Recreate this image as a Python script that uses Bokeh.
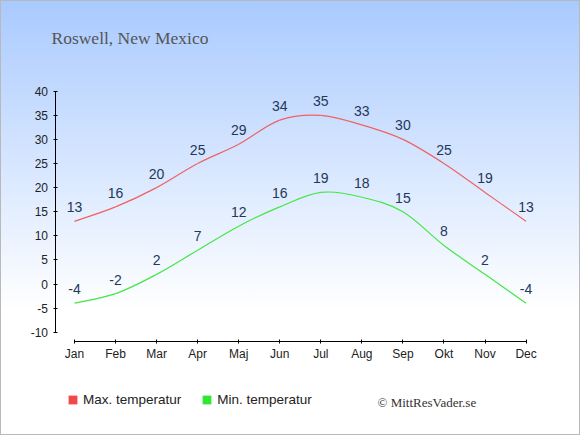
import numpy as np
from bokeh.plotting import figure
from bokeh.models import (ColumnDataSource, Range1d, FixedTicker, Label,
                          Legend, LegendItem)
from bokeh.core.properties import value
from bokeh.embed import file_html
from bokeh.resources import INLINE

# ---------------- data ----------------
months = ["Jan", "Feb", "Mar", "Apr", "Maj", "Jun", "Jul", "Aug", "Sep", "Okt", "Nov", "Dec"]
max_temp = [13, 16, 20, 25, 29, 34, 35, 33, 30, 25, 19, 13]
min_temp = [-4, -2, 2, 7, 12, 16, 19, 18, 15, 8, 2, -4]
y_ticks = [-10, -5, 0, 5, 10, 15, 20, 25, 30, 35, 40]
title_text = "Roswell, New Mexico"
legend_labels = ["Max. temperatur", "Min. temperatur"]
credit_text = "\u00a9 MittResVader.se"

# ---------------- layout (pixels in the 580x435 canvas) ----------------
W, H = 580, 435
PX_X = 41.05          # px per month
PX_Y = 4.82           # px per degree
JAN_PX = 74.0         # screen x of first month
TOP40_PX = 90.7       # screen y of the 40 degree tick
x_start = -JAN_PX / PX_X
x_end = x_start + W / PX_X
y_end = 40 + TOP40_PX / PX_Y
y_start = y_end - H / PX_Y


def dx(px):
    return x_start + px / PX_X


def dy(py):
    return y_end - py / PX_Y


RED_LINE = "#f06262"
GREEN_LINE = "#44e644"
RED_BOX = "#f04848"
GREEN_BOX = "#33e633"
LABEL_COLOR = "#253758"

p = figure(width=W, height=H, output_backend="svg", toolbar_location=None,
           x_range=Range1d(x_start, x_end), y_range=Range1d(y_start, y_end),
           min_border=0, min_border_left=0, min_border_right=0,
           min_border_top=0, min_border_bottom=0, title=None)
p.border_fill_color = None
p.background_fill_color = None
p.outline_line_color = None
p.grid.visible = False
p.styles = {"background-image": "linear-gradient(to bottom, #a9caff 0px, #ffffff 310px)",
            "box-shadow": "inset 0 0 0 1px #b9b9b9"}


def bezier_source(vals):
    n = len(vals)
    d = dict(x0=[], y0=[], x1=[], y1=[], cx0=[], cy0=[], cx1=[], cy1=[])
    for i in range(n - 1):
        i0 = max(i - 1, 0)
        i3 = min(i + 2, n - 1)
        d["x0"].append(i)
        d["y0"].append(vals[i])
        d["x1"].append(i + 1)
        d["y1"].append(vals[i + 1])
        d["cx0"].append(i + (i + 1 - i0) / 6.0)
        d["cy0"].append(vals[i] + (vals[i + 1] - vals[i0]) / 6.0)
        d["cx1"].append(i + 1 - (i3 - i) / 6.0)
        d["cy1"].append(vals[i + 1] - (vals[i3] - vals[i]) / 6.0)
    return ColumnDataSource(d)


for vals, col in ((max_temp, RED_LINE), (min_temp, GREEN_LINE)):
    p.bezier(x0="x0", y0="y0", x1="x1", y1="y1", cx0="cx0", cy0="cy0",
             cx1="cx1", cy1="cy1", source=bezier_source(vals),
             line_color=col, line_width=1.2)

idx = list(range(len(months)))
for vals in (max_temp, min_temp):
    src = ColumnDataSource(dict(x=idx, y=vals, t=[str(v) for v in vals]))
    p.text(x="x", y="y", text="t", source=src, text_align="center",
           text_baseline="alphabetic", y_offset=-14,
           text_font=value("Liberation Sans"), text_font_size="14px",
           text_color=LABEL_COLOR)

# axes, drawn inside the full-canvas frame at fixed locations
xa = p.xaxis[0]
xa.ticker = FixedTicker(ticks=idx)
xa.major_label_overrides = {i: m for i, m in enumerate(months)}
xa.bounds = (0, len(months) - 1)
xa.fixed_location = dy(341)
ya = p.yaxis[0]
ya.ticker = FixedTicker(ticks=y_ticks)
ya.major_label_overrides = {v: str(v) for v in y_ticks}
ya.bounds = (min(y_ticks), max(y_ticks))
ya.fixed_location = dx(54.5)
for ax in (xa, ya):
    ax.minor_tick_line_color = None
    ax.axis_line_color = "#000000"
    ax.major_tick_line_color = "#000000"
    ax.major_tick_in = 2
    ax.major_tick_out = 2
    ax.major_label_text_font = "Liberation Sans"
    ax.major_label_text_font_size = "12px"
    ax.major_label_text_color = "#222222"
xa.major_label_standoff = 3
ya.major_label_standoff = 5

# legend (swatch renderers are hidden, zero-size, and only feed the legend)
r_max = p.quad(left=[0], right=[0], top=[max_temp[0]], bottom=[max_temp[0]],
               fill_color=RED_BOX, line_color=None, visible=False)
r_min = p.quad(left=[0], right=[0], top=[min_temp[0]], bottom=[min_temp[0]],
               fill_color=GREEN_BOX, line_color=None, visible=False)
legend = Legend(items=[LegendItem(label=legend_labels[0], renderers=[r_max]),
                       LegendItem(label=legend_labels[1], renderers=[r_min])],
                orientation="horizontal", location=(67, 28),
                glyph_width=11, glyph_height=11, label_height=11, label_width=10,
                label_standoff=5, spacing=20, padding=0, margin=0,
                border_line_color=None, background_fill_alpha=0,
                label_text_font="Liberation Sans", label_text_font_size="13.5px",
                label_text_color="#222222")
p.add_layout(legend, "center")

# title and credit
p.add_layout(Label(x=dx(51), y=dy(37.5), text=title_text,
                   text_font="Liberation Serif", text_font_size="17.5px",
                   text_color="#555555", text_baseline="alphabetic"))
p.add_layout(Label(x=dx(377), y=dy(402), text=credit_text,
                   text_font="Liberation Serif", text_font_size="13px",
                   text_color="#333333", text_baseline="alphabetic"))

open("out.html", "w").write(file_html(p, INLINE))
